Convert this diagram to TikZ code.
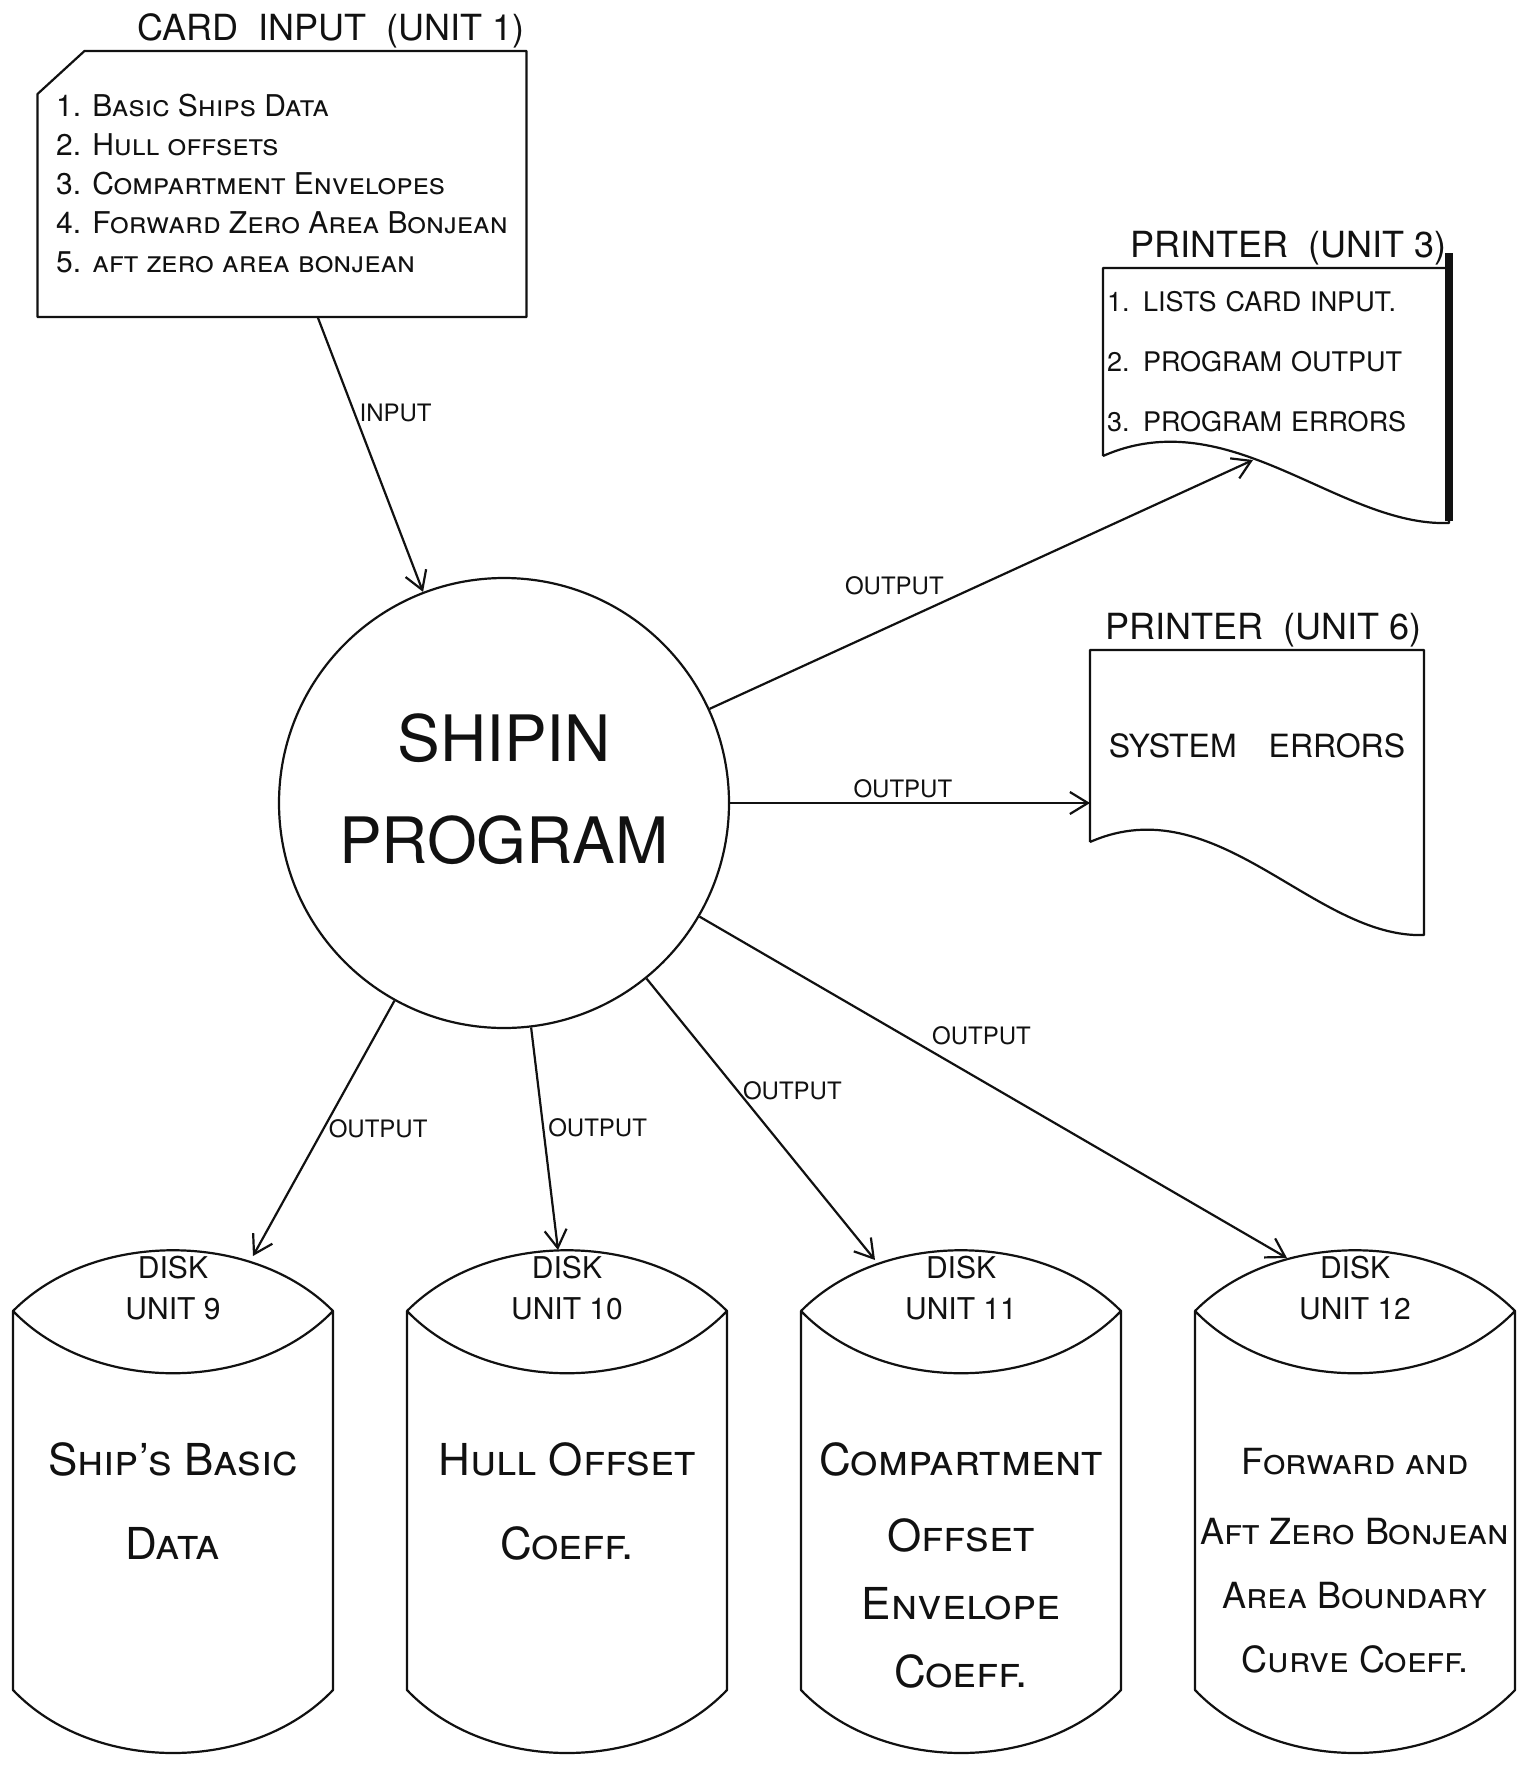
\documentclass[tikz,border=0pt]{standalone}
\usepackage{fontspec}
\setmainfont{TeX Gyre Heros}
\usepackage{xcolor}
\definecolor{inkBlack}{HTML}{111111}
\usepackage{tikz}
\usetikzlibrary{
    arrows.meta,
    positioning,
    calc
}
\tikzset{
    % Base style for all hand-lettered nodes
    sketch base/.style={
        font=\fontsize{16}{20}\selectfont,
        align=center,
        text=inkBlack,
    },
    % Card input - outline with the clipped corner is drawn by \cardoutline
    card/.style={
        sketch base,
        rectangle,
        outer sep=0pt,
        minimum width=244.5pt,
        minimum height=133pt,
        align=left,
        font=\fontsize{15}{19.5}\selectfont,
    },
    % Program bubble
    program/.style={
        sketch base,
        circle,
        draw=inkBlack,
        line width=1.1pt,
        minimum size=225pt,
        font=\fontsize{32}{38}\selectfont,
        text depth=14pt,
    },
    % Printer page - outline is drawn by \pageoutline
    printer/.style={
        sketch base,
        rectangle,
        inner sep=2pt,
        outer sep=0pt,
        font=\fontsize{13.5}{30}\selectfont,
        align=left,
    },
    % Disk - outline is drawn by \diskoutline
    disk/.style={
        rectangle,
        inner sep=0pt,
        outer sep=0pt,
        minimum width=160pt,
        minimum height=251.5pt,
    },
    % Titles over the boxes
    unit title/.style={
        sketch base,
        font=\fontsize{18}{20}\selectfont,
        inner sep=1pt,
    },
    % DISK / UNIT n in the disk lids
    unit label/.style={
        sketch base,
        font=\fontsize{15}{20.5}\selectfont,
        inner sep=1pt,
    },
    disk text/.style={
        sketch base,
        font=\fontsize{22}{26}\selectfont,
        inner sep=1pt,
    },
    page line/.style={
        draw=inkBlack,
        line width=1.1pt,
        line join=round,
    },
    disk line/.style={
        page line,
    },
    % Hand drawn open arrow
    arrow/.style={
        -{Straight Barb[length=9pt, width=11pt]},
        line width=1.1pt,
        draw=inkBlack,
    },
    % Label style for INPUT/OUTPUT
    edge label/.style={
        sketch base,
        font=\fontsize{12}{14}\selectfont,
        inner sep=2pt,
    },
}
\newcommand{\cardoutline}[1]{%
    \draw [page line] ($(#1.north west)+(47,0)$) -- (#1.north east) -- (#1.south east)
        -- (#1.south west) -- ($(#1.north west)+(0,43)$) -- cycle;
}
\newcommand{\pageoutline}[2]{%
    \draw [page line] (#1.south west) -- (#1.north west) -- (#1.north east)
        -- ($(#1.south east)+(0,#2)$)
        .. controls +(-110,4) and +(127,-56) .. (#1.south west);
}
\newcommand{\diskoutline}[1]{%
    \coordinate (#1-l) at ($(#1.north west)+(0,61)$);
    \coordinate (#1-r) at ($(#1.north east)+(0,61)$);
    \draw [disk line] (#1-l)
        .. controls +(80,-81) and +(-80,-81) .. (#1-r)
        .. controls +(-80,83) and +(80,83) .. (#1-l)
        -- ($(#1.south west)+(0,-63)$)
        .. controls +(80,84) and +(-80,84) .. ($(#1.south east)+(0,-63)$)
        -- (#1-r);
}

\begin{document}
\begin{tikzpicture}[x=0.5pt, y=-0.5pt, node distance=37pt]
    \useasboundingbox (0,0) rectangle (1520,1766);

    \node (card) [card] at (282,184) {1. \textsc{Basic Ships Data}\\
        2. \textsc{Hull offsets}\\
        3. \textsc{Compartment Envelopes}\\
        4. \textsc{Forward Zero Area Bonjean}\\
        5. \textsc{aft zero area bonjean}};
    \cardoutline{card}
    \node (cardtitle) [unit title, above left=0pt and 0pt of card.north east] {CARD\ \ INPUT\ \ (UNIT 1)};
    \node (prog) [program] at (504,803) {SHIPIN\\[13pt]PROGRAM};

    \node (prn3) [printer, text width=169pt, minimum height=94pt] at (1276,362) {1. LISTS CARD INPUT.\\2. PROGRAM OUTPUT\\3. PROGRAM ERRORS};
    \node (prn3title) [unit title, above left=0pt and 0pt of prn3.north east] {PRINTER\ \ (UNIT 3)};
    \node (prn6) [printer, minimum width=167pt, minimum height=96pt, font=\fontsize{16}{20}\selectfont] at (1257,746) {SYSTEM\quad ERRORS};
    \node (prn6title) [unit title, above left=0pt and 0pt of prn6.north east] {PRINTER\ \ (UNIT 6)};
    \pageoutline{prn3}{67}
    \pageoutline{prn6}{93}
    \draw [line width=4pt, draw=inkBlack] ([yshift=7.5pt]prn3.north east) -- ($(prn3.south east)+(0,65)$);

    \node (disk9) [disk] at (173,1501.5) {};
    \node (disk10) [disk, right=of disk9] {};
    \node (disk11) [disk, right=of disk10] {};
    \node (disk12) [disk, right=of disk11] {};
    \diskoutline{disk9}
    \diskoutline{disk10}
    \diskoutline{disk11}
    \diskoutline{disk12}

    \node (disk9unit) [unit label, below=2pt of disk9.north] {DISK\\UNIT 9};
    \node (disk10unit) [unit label, below=2pt of disk10.north] {DISK\\UNIT 10};
    \node (disk11unit) [unit label, below=2pt of disk11.north] {DISK\\UNIT 11};
    \node (disk12unit) [unit label, below=2pt of disk12.north] {DISK\\UNIT 12};
    \node (disk9text) [disk text, below=95pt of disk9.north] {\textsc{Ship's Basic}\\[16pt]\textsc{Data}};
    \node (disk10text) [disk text, below=95pt of disk10.north] {\textsc{Hull Offset}\\[16pt]\textsc{Coeff.}};
    \node (disk11text) [disk text, below=95pt of disk11.north] {\textsc{Compartment}\\[12pt]\textsc{Offset}\\[8pt]\textsc{Envelope}\\[8pt]\textsc{Coeff.}};
    \node (disk12text) [disk text, font=\fontsize{18}{22}\selectfont, below=98pt of disk12.north] {\textsc{Forward and}\\[13pt]\textsc{Aft Zero Bonjean}\\[10pt]\textsc{Area Boundary}\\[10pt]\textsc{Curve Coeff.}};

    \coordinate (prn3in) at ($(prn3.south west)+(150,4)$);
    \draw [arrow] (card.-75) -- node[edge label, pos=0.35, right] {INPUT} (prog);
    \draw [arrow] (prog) -- node[edge label, pos=0.34, above=12pt] {OUTPUT} (prn3in);
    \draw [arrow] (prog) -- node[edge label, pos=0.48, above] {OUTPUT} (prog -| prn6.west);
    \draw [arrow] (prog) -- node[edge label, pos=0.5, right] {OUTPUT} ([xshift=40pt, yshift=-3pt]disk9.north);
    \draw [arrow] (prog) -- node[edge label, pos=0.45, right] {OUTPUT} ([xshift=-4.5pt]disk10.north);
    \draw [arrow] (prog) -- node[edge label, pos=0.4, right] {OUTPUT} ([xshift=-43pt, yshift=-5pt]disk11.north);
    \draw [arrow] (prog) -- node[edge label, pos=0.48, above=15pt] {OUTPUT} ([xshift=-34pt, yshift=-4pt]disk12.north);
\end{tikzpicture}
\end{document}
